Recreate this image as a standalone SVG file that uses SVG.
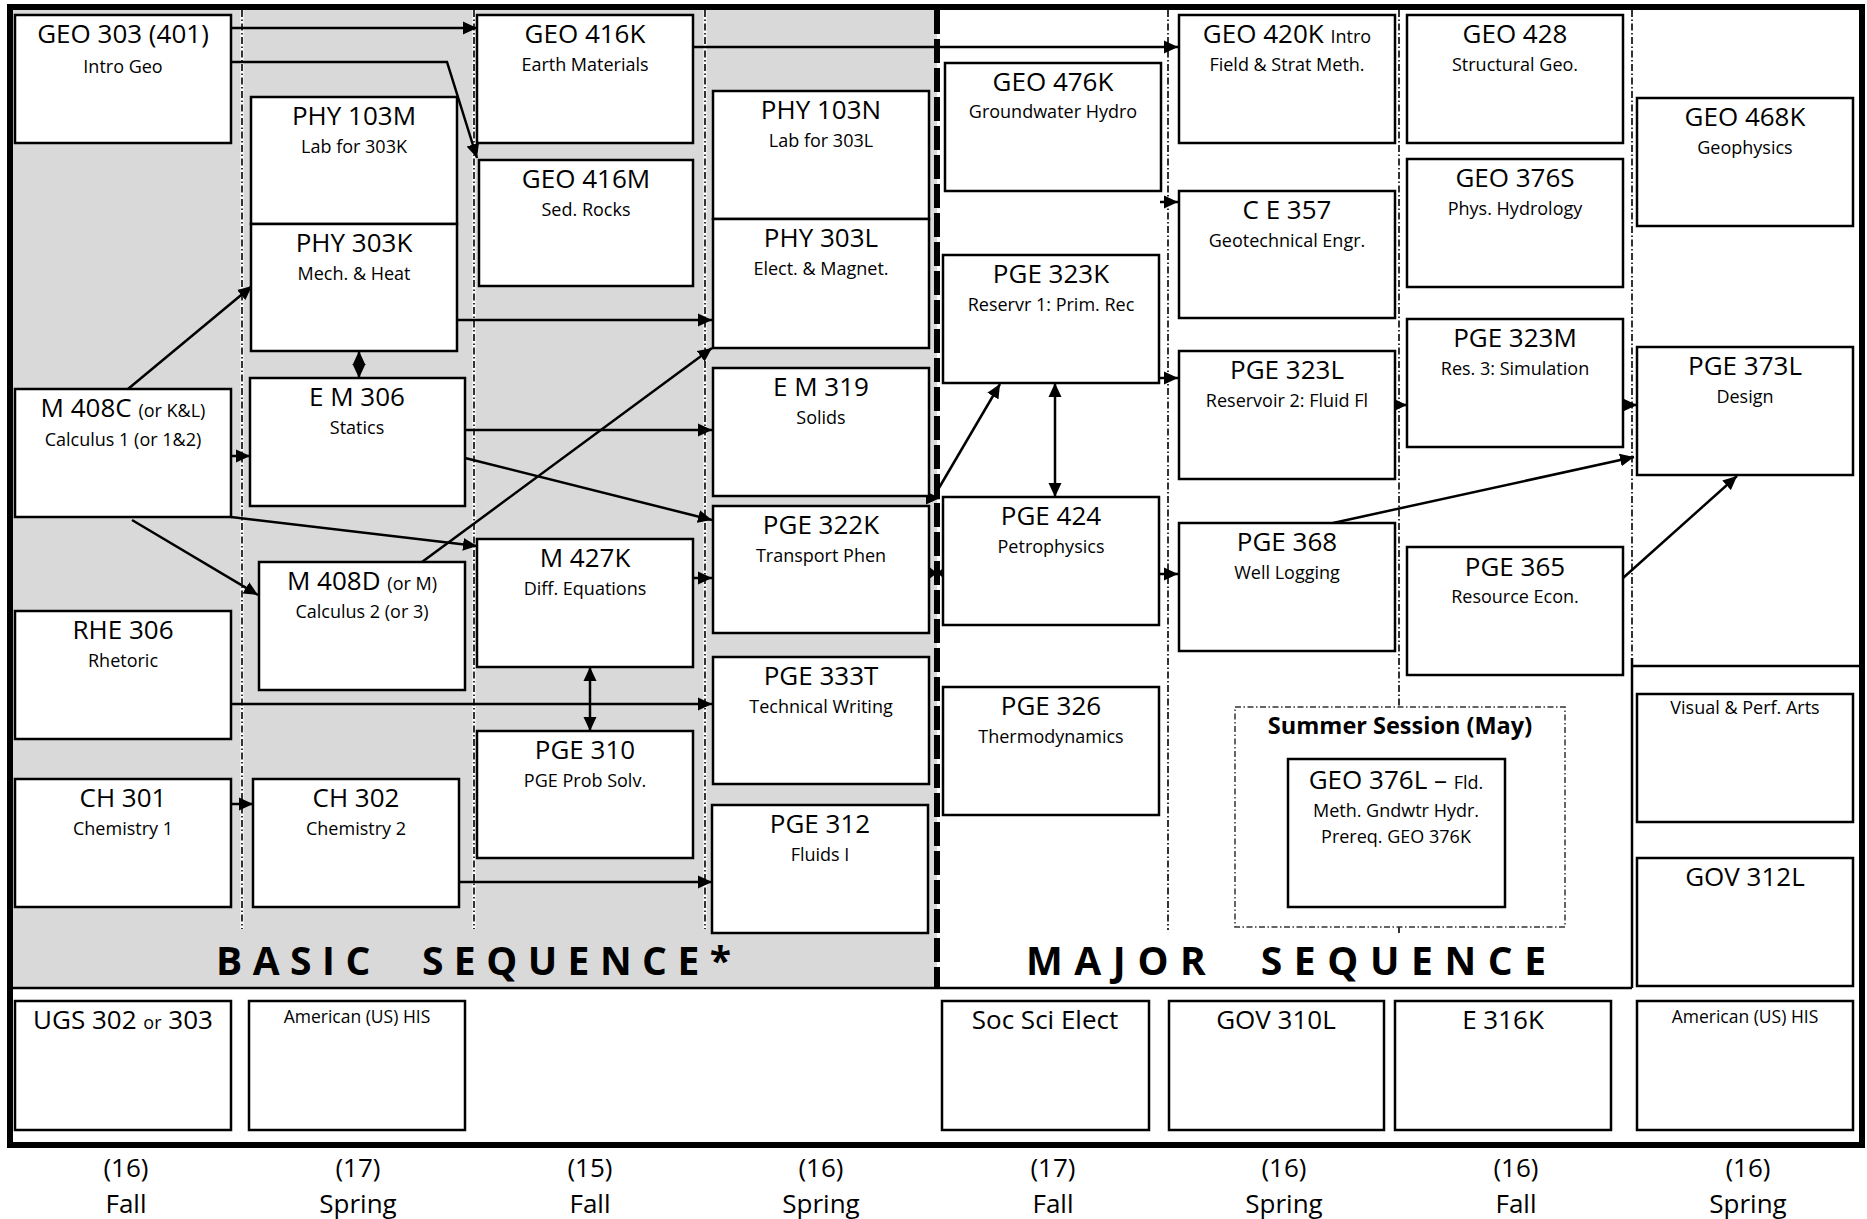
<svg xmlns="http://www.w3.org/2000/svg" width="1867" height="1219" viewBox="0 0 1867 1219">
<style>
.box{fill:#fff;stroke:#000;stroke-width:2.5}
.t{font-family:"Open Sans","Liberation Sans",sans-serif;font-size:26px;text-anchor:middle;fill:#000}
.s{font-size:18px}
.c{fill:none;stroke:#000;stroke-width:2.5}
.sep{fill:none;stroke:#000;stroke-width:1.6;stroke-dasharray:7 2.5 1.5 2.5}
.sepw{fill:none;stroke:#fff;stroke-width:3}
.big{font-family:"Open Sans","Liberation Sans",sans-serif;font-weight:bold;font-size:39px;fill:#000}
</style>
<defs>
<marker id="a" viewBox="0 0 14 14" refX="14" refY="7" markerWidth="14" markerHeight="14" markerUnits="userSpaceOnUse" orient="auto-start-reverse"><path d="M0,0.5 L14,7 L0,13.5 z" fill="#000"/></marker>
</defs>
<rect x="0" y="0" width="1867" height="1219" fill="#fff"/>
<rect x="10" y="7" width="927" height="981" fill="#d9d9d9"/>
<g id="separators">
<path class="sepw" d="M242,10V929M474,10V929M705,10V929"/>
<path class="sep" d="M242,10V929M474,10V929M705,10V929M1168,10V930M1399,10V707M1399,927V933M1632,10V658"/>
<path d="M937,10V988" fill="none" stroke="#000" stroke-width="6" stroke-dasharray="24 5"/>
<path d="M10,988H1632M1632,658V988M1632,666H1862" fill="none" stroke="#000" stroke-width="2.5"/>
</g>
<rect x="10" y="7" width="1852" height="1138" fill="none" stroke="#000" stroke-width="6"/>
<g id="connectors">
<path class="c" marker-end="url(#a)" d="M231,28H477"/>
<path class="c" marker-end="url(#a)" d="M231,62H447L477,158"/>
<path class="c" marker-end="url(#a)" d="M128,389L252,286"/>
<path class="c" marker-start="url(#a)" marker-end="url(#a)" d="M359,351V378"/>
<path class="c" marker-end="url(#a)" d="M457,320H712"/>
<path class="c" marker-end="url(#a)" d="M231,456H250"/>
<path class="c" marker-end="url(#a)" d="M231,517L477,546"/>
<path class="c" marker-end="url(#a)" d="M132,520L258,595"/>
<path class="c" marker-end="url(#a)" d="M422,562L712,348"/>
<path class="c" marker-end="url(#a)" d="M465,430H712"/>
<path class="c" marker-end="url(#a)" d="M465,458L712,520"/>
<path class="c" marker-end="url(#a)" d="M693,578H712"/>
<path class="c" marker-start="url(#a)" marker-end="url(#a)" d="M590,667V731"/>
<path class="c" marker-end="url(#a)" d="M231,704H712"/>
<path class="c" marker-end="url(#a)" d="M231,804H253"/>
<path class="c" marker-end="url(#a)" d="M459,882H712"/>
<path class="c" marker-end="url(#a)" d="M693,47H1178"/>
<path class="c" marker-end="url(#a)" d="M1160,202H1178"/>
<path class="c" marker-end="url(#a)" d="M1159,378H1178"/>
<path class="c" marker-end="url(#a)" d="M926,498H940"/>
<path class="c" marker-end="url(#a)" d="M936,493L1000,384"/>
<path class="c" marker-start="url(#a)" marker-end="url(#a)" d="M1055,383V497"/>
<path d="M928,566L937,573L928,580zM946,566L937,573L946,580z" fill="#000"/>
<path class="c" d="M929,573H943"/>
<path class="c" marker-end="url(#a)" d="M1159,574H1178"/>
<path class="c" marker-end="url(#a)" d="M1395,405H1407"/>
<path class="c" marker-end="url(#a)" d="M1623,405H1637"/>
<path class="c" marker-end="url(#a)" d="M1333,523L1634,457"/>
<path class="c" marker-end="url(#a)" d="M1623,578L1737,476"/>
</g>
<g id="geo303"><rect class="box" x="15" y="15" width="216" height="128"/><text class="t" x="123" y="43">GEO 303 (401)</text><text class="t s" x="123" y="73">Intro Geo</text></g>
<g id="m408c"><rect class="box" x="15" y="389" width="216" height="128"/><text class="t" x="123" y="417">M 408C <tspan class="s">(or K&amp;L)</tspan></text><text class="t s" x="123" y="446">Calculus 1 (or 1&amp;2)</text></g>
<g id="rhe306"><rect class="box" x="15" y="611" width="216" height="128"/><text class="t" x="123" y="639">RHE 306</text><text class="t s" x="123" y="667">Rhetoric</text></g>
<g id="ch301"><rect class="box" x="15" y="779" width="216" height="128"/><text class="t" x="123" y="807">CH 301</text><text class="t s" x="123" y="835">Chemistry 1</text></g>
<g id="phy103m"><rect class="box" x="251" y="97" width="206" height="127"/><text class="t" x="354" y="125">PHY 103M</text><text class="t s" x="354" y="153">Lab for 303K</text></g>
<g id="phy303k"><rect class="box" x="251" y="224" width="206" height="127"/><text class="t" x="354" y="252">PHY 303K</text><text class="t s" x="354" y="280">Mech. &amp; Heat</text></g>
<g id="em306"><rect class="box" x="250" y="378" width="215" height="128"/><text class="t" x="357" y="406">E M 306</text><text class="t s" x="357" y="434">Statics</text></g>
<g id="m408d"><rect class="box" x="259" y="562" width="206" height="128"/><text class="t" x="362" y="590">M 408D <tspan class="s">(or M)</tspan></text><text class="t s" x="362" y="618">Calculus 2 (or 3)</text></g>
<g id="ch302"><rect class="box" x="253" y="779" width="206" height="128"/><text class="t" x="356" y="807">CH 302</text><text class="t s" x="356" y="835">Chemistry 2</text></g>
<g id="geo416k"><rect class="box" x="477" y="15" width="216" height="128"/><text class="t" x="585" y="43">GEO 416K</text><text class="t s" x="585" y="71">Earth Materials</text></g>
<g id="geo416m"><rect class="box" x="479" y="160" width="214" height="126"/><text class="t" x="586" y="188">GEO 416M</text><text class="t s" x="586" y="216">Sed. Rocks</text></g>
<g id="m427k"><rect class="box" x="477" y="539" width="216" height="128"/><text class="t" x="585" y="567">M 427K</text><text class="t s" x="585" y="595">Diff. Equations</text></g>
<g id="pge310"><rect class="box" x="477" y="731" width="216" height="127"/><text class="t" x="585" y="759">PGE 310</text><text class="t s" x="585" y="787">PGE Prob Solv.</text></g>
<g id="phy103n"><rect class="box" x="713" y="91" width="216" height="128"/><text class="t" x="821" y="119">PHY 103N</text><text class="t s" x="821" y="147">Lab for 303L</text></g>
<g id="phy303l"><rect class="box" x="713" y="219" width="216" height="129"/><text class="t" x="821" y="247">PHY 303L</text><text class="t s" x="821" y="275">Elect. &amp; Magnet.</text></g>
<g id="em319"><rect class="box" x="713" y="368" width="216" height="128"/><text class="t" x="821" y="396">E M 319</text><text class="t s" x="821" y="424">Solids</text></g>
<g id="pge322k"><rect class="box" x="713" y="506" width="216" height="127"/><text class="t" x="821" y="534">PGE 322K</text><text class="t s" x="821" y="562">Transport Phen</text></g>
<g id="pge333t"><rect class="box" x="713" y="657" width="216" height="127"/><text class="t" x="821" y="685">PGE 333T</text><text class="t s" x="821" y="713">Technical Writing</text></g>
<g id="pge312"><rect class="box" x="712" y="805" width="216" height="128"/><text class="t" x="820" y="833">PGE 312</text><text class="t s" x="820" y="861">Fluids I</text></g>
<g id="geo476k"><rect class="box" x="945" y="63" width="216" height="128"/><text class="t" x="1053" y="91">GEO 476K</text><text class="t s" x="1053" y="118">Groundwater Hydro</text></g>
<g id="pge323k"><rect class="box" x="943" y="255" width="216" height="128"/><text class="t" x="1051" y="283">PGE 323K</text><text class="t s" x="1051" y="311">Reservr 1: Prim. Rec</text></g>
<g id="pge424"><rect class="box" x="943" y="497" width="216" height="128"/><text class="t" x="1051" y="525">PGE 424</text><text class="t s" x="1051" y="553">Petrophysics</text></g>
<g id="pge326"><rect class="box" x="943" y="687" width="216" height="128"/><text class="t" x="1051" y="715">PGE 326</text><text class="t s" x="1051" y="743">Thermodynamics</text></g>
<g id="geo420k"><rect class="box" x="1179" y="15" width="216" height="128"/><text class="t" x="1287" y="43">GEO 420K <tspan class="s">Intro</tspan></text><text class="t s" x="1287" y="71">Field &amp; Strat Meth.</text></g>
<g id="ce357"><rect class="box" x="1179" y="191" width="216" height="127"/><text class="t" x="1287" y="219">C E 357</text><text class="t s" x="1287" y="247">Geotechnical Engr.</text></g>
<g id="pge323l"><rect class="box" x="1179" y="351" width="216" height="128"/><text class="t" x="1287" y="379">PGE 323L</text><text class="t s" x="1287" y="407">Reservoir 2: Fluid Fl</text></g>
<g id="pge368"><rect class="box" x="1179" y="523" width="216" height="128"/><text class="t" x="1287" y="551">PGE 368</text><text class="t s" x="1287" y="579">Well Logging</text></g>
<g id="geo428"><rect class="box" x="1407" y="15" width="216" height="128"/><text class="t" x="1515" y="43">GEO 428</text><text class="t s" x="1515" y="71">Structural Geo.</text></g>
<g id="geo376s"><rect class="box" x="1407" y="159" width="216" height="128"/><text class="t" x="1515" y="187">GEO 376S</text><text class="t s" x="1515" y="215">Phys. Hydrology</text></g>
<g id="pge323m"><rect class="box" x="1407" y="319" width="216" height="128"/><text class="t" x="1515" y="347">PGE 323M</text><text class="t s" x="1515" y="375">Res. 3: Simulation</text></g>
<g id="pge365"><rect class="box" x="1407" y="547" width="216" height="128"/><text class="t" x="1515" y="576">PGE 365</text><text class="t s" x="1515" y="603">Resource Econ.</text></g>
<g id="geo468k"><rect class="box" x="1637" y="98" width="216" height="128"/><text class="t" x="1745" y="126">GEO 468K</text><text class="t s" x="1745" y="154">Geophysics</text></g>
<g id="pge373l"><rect class="box" x="1637" y="347" width="216" height="128"/><text class="t" x="1745" y="375">PGE 373L</text><text class="t s" x="1745" y="403">Design</text></g>
<g id="vpa"><rect class="box" x="1637" y="694" width="216" height="128"/><text class="t s" x="1745" y="714">Visual &amp; Perf. Arts</text></g>
<g id="gov312l"><rect class="box" x="1637" y="858" width="216" height="128"/><text class="t" x="1745" y="886">GOV 312L</text></g>
<g id="summer">
<rect x="1235" y="707" width="330" height="220" fill="none" stroke="#333" stroke-width="1.5" stroke-dasharray="6 2.5 1.5 2.5"/>
<text class="t" x="1400" y="734" style="font-weight:bold;font-size:23.5px">Summer Session (May)</text>
<g id="geo376l"><rect class="box" x="1288" y="759" width="217" height="148"/><text class="t" x="1396" y="789">GEO 376L – <tspan class="s">Fld.</tspan></text><text class="t s" x="1396" y="817">Meth. Gndwtr Hydr.</text><text class="t s" x="1396" y="843">Prereq. GEO 376K</text></g>
</g>
<g id="ugs"><rect class="box" x="15" y="1001" width="216" height="129"/><text class="t" x="123" y="1029">UGS 302 <tspan class="s">or</tspan> 303</text></g>
<g id="amhis1"><rect class="box" x="249" y="1001" width="216" height="129"/><text class="t" x="357" y="1023" style="font-size:17.5px">American (US) HIS</text></g>
<g id="socsci"><rect class="box" x="942" y="1001" width="207" height="129"/><text class="t" x="1045" y="1029">Soc Sci Elect</text></g>
<g id="gov310l"><rect class="box" x="1169" y="1001" width="215" height="129"/><text class="t" x="1276" y="1029">GOV 310L</text></g>
<g id="e316k"><rect class="box" x="1395" y="1001" width="216" height="129"/><text class="t" x="1503" y="1029">E 316K</text></g>
<g id="amhis2"><rect class="box" x="1637" y="1001" width="216" height="129"/><text class="t" x="1745" y="1023" style="font-size:17.5px">American (US) HIS</text></g>
<text class="big" x="216" y="975" textLength="515" lengthAdjust="spacing" xml:space="preserve">BASIC  SEQUENCE*</text>
<text class="big" x="1026" y="975" textLength="520" lengthAdjust="spacing" xml:space="preserve">MAJOR  SEQUENCE</text>
<g id="semesters">
<text class="t" x="126" y="1177">(16)</text><text class="t" x="126" y="1213">Fall</text>
<text class="t" x="358" y="1177">(17)</text><text class="t" x="358" y="1213">Spring</text>
<text class="t" x="590" y="1177">(15)</text><text class="t" x="590" y="1213">Fall</text>
<text class="t" x="821" y="1177">(16)</text><text class="t" x="821" y="1213">Spring</text>
<text class="t" x="1053" y="1177">(17)</text><text class="t" x="1053" y="1213">Fall</text>
<text class="t" x="1284" y="1177">(16)</text><text class="t" x="1284" y="1213">Spring</text>
<text class="t" x="1516" y="1177">(16)</text><text class="t" x="1516" y="1213">Fall</text>
<text class="t" x="1748" y="1177">(16)</text><text class="t" x="1748" y="1213">Spring</text>
</g>
</svg>
